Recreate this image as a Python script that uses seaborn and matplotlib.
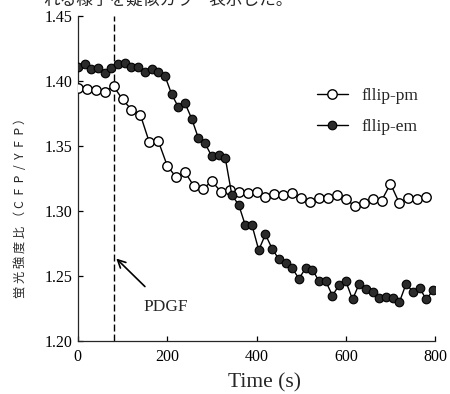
import numpy as np
import pandas as pd
import matplotlib
matplotlib.use('Agg')
import matplotlib.pyplot as plt
import seaborn as sns

sns.set_theme(style='ticks')
plt.rcParams.update({
    "font.family": ['Liberation Serif', 'Noto Sans CJK JP'],
    "xtick.direction": 'in',
    "ytick.direction": 'in',
    "axes.linewidth": 0.9,
})

# fllip-pm (open circles), every 20 s
pm_time = [0, 20, 40, 60, 80, 100, 120, 140, 160, 180,
           200, 220, 240, 260, 280, 300, 320, 340, 360, 380,
           400, 420, 440, 460, 480, 500, 520, 540, 560, 580,
           600, 620, 640, 660, 680, 700, 720, 740, 760, 780]
pm_ratio = [1.395, 1.394, 1.393, 1.392, 1.396, 1.386, 1.378, 1.374, 1.353, 1.354,
            1.335, 1.326, 1.330, 1.319, 1.317, 1.323, 1.315, 1.316, 1.315, 1.314,
            1.315, 1.311, 1.313, 1.312, 1.314, 1.310, 1.307, 1.310, 1.310, 1.312,
            1.309, 1.304, 1.306, 1.309, 1.308, 1.321, 1.306, 1.310, 1.309, 1.311]

# fllip-em (filled circles), every 15 s
em_time = [0, 15, 30, 45, 60, 75, 90, 105, 120, 135,
           150, 165, 180, 195, 210, 225, 240, 255, 270, 285,
           300, 315, 330, 345, 360, 375, 390, 405, 420, 435,
           450, 465, 480, 495, 510, 525, 540, 555, 570, 585,
           600, 615, 630, 645, 660, 675, 690, 705, 720, 735,
           750, 765, 780, 795]
em_ratio = [1.411, 1.413, 1.409, 1.410, 1.406, 1.410, 1.413, 1.414, 1.411, 1.411,
            1.407, 1.409, 1.407, 1.404, 1.390, 1.380, 1.383, 1.371, 1.356, 1.352,
            1.342, 1.343, 1.341, 1.312, 1.305, 1.289, 1.289, 1.270, 1.282, 1.271,
            1.263, 1.260, 1.256, 1.248, 1.256, 1.255, 1.246, 1.246, 1.235, 1.243,
            1.246, 1.232, 1.244, 1.240, 1.238, 1.233, 1.234, 1.233, 1.230, 1.244,
            1.238, 1.241, 1.232, 1.239]

x_ticks = [0, 200, 400, 600, 800]
y_ticks = [1.20, 1.25, 1.30, 1.35, 1.40, 1.45]
pdgf_time = 80

fig = plt.figure(figsize=(4.5, 3.94), dpi=100)
fig.subplots_adjust(left=0.173, right=0.967, top=0.959, bottom=0.1345)
ax = fig.add_subplot(111)

ax.axvline(pdgf_time, color='black', lw=1.0, linestyle=(0, (5, 2.2)), zorder=1)

sns.lineplot(x=pm_time, y=pm_ratio, ax=ax, color='black', lw=1.0,
             marker='o', markersize=6.8, markerfacecolor='white',
             markeredgecolor='black', markeredgewidth=1.0, label='fllip-pm', zorder=3)
sns.lineplot(x=em_time, y=em_ratio, ax=ax, color='black', lw=1.0,
             marker='o', markersize=6.2, markerfacecolor='#2b2b2b',
             markeredgecolor='black', markeredgewidth=0.8, label='fllip-em', zorder=4)

ax.set_xlim(0, 800)
ax.set_ylim(1.20, 1.45)
ax.set_xticks(x_ticks)
ax.set_yticks(y_ticks)
ax.set_yticklabels([f'{v:.2f}' for v in y_ticks])
ax.tick_params(axis='both', labelsize=11.5, length=3.5, width=0.9, colors='black')
ax.tick_params(axis='x', pad=6)
ax.tick_params(axis='y', pad=4)
sns.despine(ax=ax)

ax.set_xlabel('Time (s)', fontsize=15.5)
ax.xaxis.set_label_coords(0.522, -0.098)
ax.set_ylabel('蛍 光 強 度 比 （ C  F  P  /  Y  F  P ）', fontsize=8.8,
              family=['Noto Sans CJK JP', 'DejaVu Sans'])
ax.yaxis.set_label_coords(-0.143, 0.42)

ax.annotate('PDGF', xy=(86, 1.2635), xytext=(196, 1.2265),
            fontsize=12.5, ha='center', va='center',
            arrowprops=dict(arrowstyle='->', color='black', lw=1.2,
                            shrinkA=9, shrinkB=0, mutation_scale=14))

leg = ax.legend(frameon=False, loc='upper left', bbox_to_anchor=(0.668, 0.78),
                fontsize=12.5, handlelength=1.8, handletextpad=0.8,
                labelspacing=0.85, borderpad=0, borderaxespad=0)

fig.text(43 / 450, 1.0, 'れる様子を疑似カラー表示した。', fontsize=12,
         family=['Noto Sans CJK JP', 'DejaVu Sans'], va='center', ha='left')

fig.savefig('out.png', dpi=100)
